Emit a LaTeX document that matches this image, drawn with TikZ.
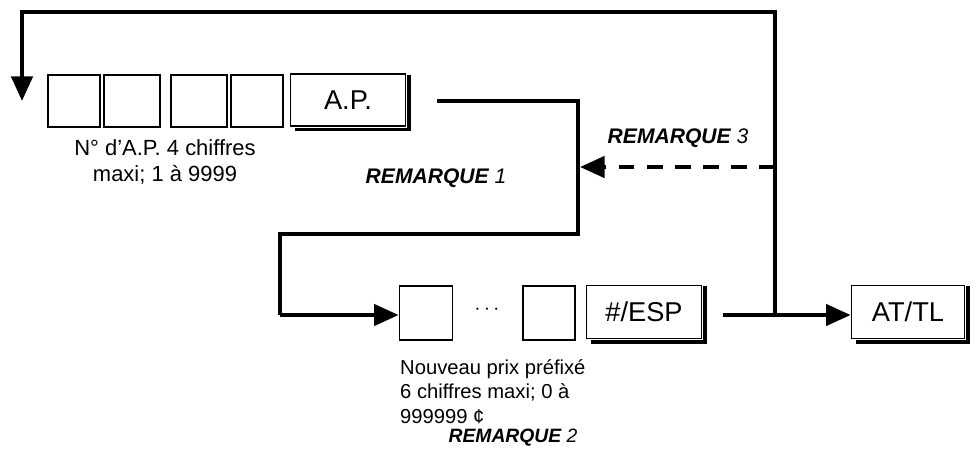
\documentclass[tikz,border=0pt]{standalone}
\usepackage{fontspec}
\setmainfont{Liberation Sans}
\usetikzlibrary{arrows.meta}
\tikzset{
  key/.style={draw, line width=1pt, minimum height=1.04cm, inner sep=0pt, font=\fontsize{15.5}{18}\selectfont},
  flow/.style={line width=2.4pt},
  flowarrow/.style={flow, -{Triangle[length=14pt, width=12pt]}},
  note/.style={font=\fontsize{12.5}{15}\selectfont},
  rem/.style={font=\fontsize{12}{14}\selectfont\bfseries\itshape}
}
\newcommand{\keyshadow}[1]{\draw[line width=2.2pt] ([xshift=1.5pt,yshift=-1pt]#1.north east) -- ([xshift=1.5pt,yshift=-1.5pt]#1.south east) -- ([xshift=3pt,yshift=-1.5pt]#1.south west);}
\begin{document}
\begin{tikzpicture}[x=0.02cm, y=-0.02cm]
  \useasboundingbox (0,0) rectangle (976,457);

  % Keys: store number
  \node[key, minimum width=1.04cm] (d1) at (74,101) {};
  \node[key, minimum width=1.12cm] (d2) at (132,101) {};
  \node[key, minimum width=1.12cm] (d3) at (199,101) {};
  \node[key, minimum width=1.04cm] (d4) at (257,101) {};
  \node[key, minimum width=2.3cm] (ap) at (348,100) {A.P.};
  \keyshadow{ap}
  \node[note, align=center] (apnote) at (165,162) {N° d’A.P. 4 chiffres\\maxi; 1 à 9999};

  % Keys: price
  \node[key, minimum width=1.06cm, minimum height=1.08cm] (p1) at (426,313) {};
  \node[note] (dots) at (487,310) {$\cdots$};
  \node[key, minimum width=1.04cm, minimum height=1.08cm] (p2) at (549,313) {};
  \node[key, minimum width=2.3cm, minimum height=1.06cm] (esp) at (644,312) {\#/ESP};
  \keyshadow{esp}
  \node[note, align=left, anchor=north west, font=\fontsize{11.5}{14}\selectfont] (pnote) at (394,353) {Nouveau prix préfixé\\6 chiffres maxi; 0 à\\999999 ¢};
  \node[rem, font=\fontsize{11}{13}\selectfont\bfseries\itshape] (rem2) at (513,438) {REMARQUE \textmd{2}};

  % Key: total
  \node[key, minimum width=2.26cm, minimum height=1.06cm] (at) at (908,312) {AT/TL};
  \keyshadow{at}

  % Flow lines
  \coordinate (ap-out) at (437,101);
  \coordinate (esp-out) at (723,315);
  \coordinate (split) at (775,315);
  \coordinate (back) at (22,12);
  \draw[flow] (ap-out) -| (578,234) -| (280,315) coordinate (turn);
  \draw[flowarrow] (turn) -- (p1.west |- turn);
  \draw[flow] (esp-out) -- (split);
  \draw[flowarrow] (split) -- (at.west |- split);
  \draw[flowarrow] (split) |- (back) -- (22,101);
  \draw[flowarrow, dash pattern=on 9pt off 7pt] (775,167) -- (580,167);

  \node[rem] (rem1) at (436,178) {REMARQUE \textmd{1}};
  \node[rem] (rem3) at (678,138) {REMARQUE \textmd{3}};
\end{tikzpicture}
\end{document}
